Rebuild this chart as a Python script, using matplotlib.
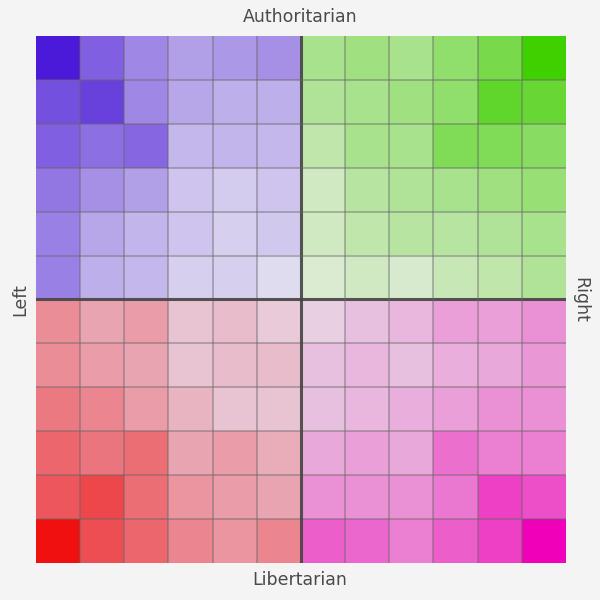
import numpy as np
import matplotlib
matplotlib.use("Agg")
import matplotlib.pyplot as plt
from matplotlib.colors import to_rgb

# Axis labels
label_top = "Authoritarian"
label_bottom = "Libertarian"
label_left = "Left"
label_right = "Right"

# Intensity of each quadrant (6x6), rows top->bottom, cols left->right
tl_values = [
    [1.00, 0.64, 0.43, 0.31, 0.35, 0.39],
    [0.72, 0.80, 0.43, 0.27, 0.23, 0.23],
    [0.64, 0.56, 0.60, 0.19, 0.20, 0.19],
    [0.52, 0.39, 0.31, 0.12, 0.08, 0.12],
    [0.47, 0.27, 0.20, 0.12, 0.06, 0.10],
    [0.47, 0.23, 0.19, 0.06, 0.06, 0.00],
]
tr_values = [
    [0.35, 0.40, 0.35, 0.50, 0.65, 1.00],
    [0.30, 0.35, 0.40, 0.50, 0.80, 0.75],
    [0.20, 0.35, 0.35, 0.60, 0.60, 0.55],
    [0.10, 0.25, 0.30, 0.35, 0.40, 0.45],
    [0.10, 0.20, 0.25, 0.25, 0.30, 0.35],
    [0.03, 0.10, 0.05, 0.15, 0.20, 0.30],
]
bl_values = [
    [0.36, 0.24, 0.28, 0.08, 0.12, 0.05],
    [0.36, 0.28, 0.24, 0.08, 0.12, 0.12],
    [0.46, 0.40, 0.28, 0.16, 0.08, 0.08],
    [0.56, 0.48, 0.52, 0.24, 0.28, 0.20],
    [0.64, 0.72, 0.52, 0.32, 0.28, 0.24],
    [1.00, 0.68, 0.56, 0.40, 0.32, 0.40],
]
br_values = [
    [0.04, 0.11, 0.15, 0.26, 0.26, 0.33],
    [0.11, 0.15, 0.11, 0.19, 0.22, 0.30],
    [0.11, 0.15, 0.19, 0.26, 0.33, 0.33],
    [0.22, 0.26, 0.22, 0.48, 0.41, 0.41],
    [0.33, 0.33, 0.33, 0.44, 0.70, 0.63],
    [0.56, 0.52, 0.41, 0.56, 0.70, 1.00],
]

# Styles
base_colors = {"tl": "#4a1ad8", "tr": "#40d000", "bl": "#f01010", "br": "#f000b8"}
light_colors = {"tl": "#e0dcf0", "tr": "#e0ecd8", "bl": "#e8d4e4", "br": "#e8d8e4"}


def quad_rgb(vals, key):
    v = np.array(vals)[..., None]
    b = np.array(to_rgb(base_colors[key]))
    l = np.array(to_rgb(light_colors[key]))
    return (1 - v) * l + v * b


top = np.concatenate([quad_rgb(tl_values, "tl"), quad_rgb(tr_values, "tr")], axis=1)
bottom = np.concatenate([quad_rgb(bl_values, "bl"), quad_rgb(br_values, "br")], axis=1)
img = np.concatenate([top, bottom], axis=0)

n = img.shape[0]
fig = plt.figure(figsize=(6, 6), dpi=100, facecolor="#f4f4f4")
ax = fig.add_axes([0.06, 0.062, 0.883, 0.878])
ax.imshow(img, extent=(0, n, 0, n), interpolation="nearest", aspect="auto")
for i in range(1, n):
    lw, c, a = (2.2, "#444444", 0.9) if i == n // 2 else (1.2, "#666666", 0.5)
    ax.axvline(i, color=c, lw=lw, alpha=a)
    ax.axhline(i, color=c, lw=lw, alpha=a)
ax.set_xlim(0, n)
ax.set_ylim(0, n)
ax.set_xticks([])
ax.set_yticks([])
for s in ax.spines.values():
    s.set_visible(False)

fs = 12.5
fig.text(0.5, 1 - 17 / 600, label_top, ha="center", va="center", fontsize=fs, color="#4a4a4a")
fig.text(0.5, 1 - 580 / 600, label_bottom, ha="center", va="center", fontsize=fs, color="#4a4a4a")
fig.text(20 / 600, 0.5, label_left, ha="center", va="center", fontsize=fs, color="#4a4a4a", rotation=90)
fig.text(580 / 600, 0.5, label_right, ha="center", va="center", fontsize=fs, color="#4a4a4a", rotation=-90)

fig.savefig("out.png", dpi=100, facecolor=fig.get_facecolor())
